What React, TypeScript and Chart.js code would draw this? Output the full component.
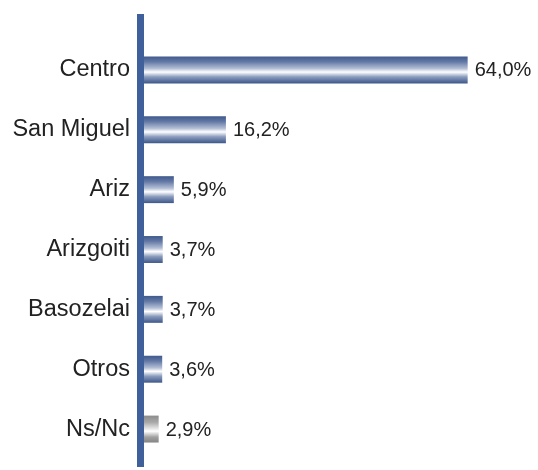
import React, { useEffect, useRef } from "react";
import { Chart, registerables } from "chart.js";

Chart.register(...registerables);

const categories = ["Centro", "San Miguel", "Ariz", "Arizgoiti", "Basozelai", "Otros", "Ns/Nc"];
const values = [64.0, 16.2, 5.9, 3.7, 3.7, 3.6, 2.9];
const barKinds = ["blue", "blue", "blue", "blue", "blue", "blue", "gray"];

const FONT = "'Liberation Sans', Arial, Helvetica, sans-serif";
const AXIS_COLOR = "#40609c";

const gradientStops: Record<string, [number, string][]> = {
  blue: [
    [0, "#3f5a8e"],
    [0.2, "#6479a5"],
    [0.45, "#b4bfd6"],
    [0.58, "#ffffff"],
    [0.76, "#8a9bbc"],
    [1, "#3d578b"],
  ],
  gray: [
    [0, "#8c8c8c"],
    [0.25, "#a9a9a9"],
    [0.58, "#ffffff"],
    [0.8, "#a0a0a0"],
    [1, "#858585"],
  ],
};

const formatValue = (v: number) => v.toFixed(1).replace(".", ",") + "%";

export default function App() {
  const canvasRef = useRef<HTMLCanvasElement | null>(null);

  useEffect(() => {
    const canvas = canvasRef.current;
    if (!canvas) return;

    const axisLinePlugin = {
      id: "axisLine",
      afterDatasetsDraw(chart: any) {
        const { ctx, chartArea } = chart;
        ctx.save();
        ctx.fillStyle = AXIS_COLOR;
        ctx.fillRect(chartArea.left - 7, chartArea.top - 26, 7, chartArea.bottom - chartArea.top + 34);
        ctx.restore();
      },
    };

    const valueLabelPlugin = {
      id: "valueLabels",
      afterDatasetsDraw(chart: any) {
        const { ctx } = chart;
        const meta = chart.getDatasetMeta(0);
        ctx.save();
        ctx.fillStyle = "#222222";
        ctx.font = `20px ${FONT}`;
        ctx.textAlign = "left";
        ctx.textBaseline = "middle";
        meta.data.forEach((el: any, i: number) => {
          ctx.fillText(formatValue(values[i]), el.x + 7, el.y + 1);
        });
        ctx.restore();
      },
    };

    const chart = new Chart(canvas, {
      type: "bar",
      data: {
        labels: categories,
        datasets: [
          {
            data: values,
            backgroundColor: (c: any) => {
              const ch = c.chart;
              const kind = barKinds[c.dataIndex] || "blue";
              const stops = gradientStops[kind];
              const yScale = ch.scales && ch.scales.y;
              if (!ch.chartArea || !yScale || c.dataIndex === undefined) return stops[0][1];
              const center = yScale.getPixelForValue(c.dataIndex);
              const half = (yScale.height / categories.length) * 0.45 / 2;
              const g = ch.ctx.createLinearGradient(0, center - half, 0, center + half);
              stops.forEach(([o, col]) => g.addColorStop(o, col));
              return g;
            },
            borderWidth: 0,
            barPercentage: 0.45,
            categoryPercentage: 1,
          },
        ],
      },
      options: {
        indexAxis: "y",
        animation: false,
        responsive: false,
        maintainAspectRatio: false,
        devicePixelRatio: 1,
        layout: { padding: { left: 0, right: 40, top: 40, bottom: 11 } },
        plugins: {
          legend: { display: false },
          tooltip: { enabled: false },
        },
        scales: {
          x: {
            display: false,
            min: 0,
            max: 70,
          },
          y: {
            grid: { display: false, drawTicks: false },
            border: { display: false },
            ticks: {
              color: "#222222",
              padding: 14,
              font: { family: FONT, size: 23.5 },
            },
            afterFit: (scale: any) => {
              scale.width = 144;
              scale.paddingTop = 0;
              scale.paddingBottom = 0;
            },
          },
        },
      },
      plugins: [axisLinePlugin, valueLabelPlugin],
    } as any);

    return () => chart.destroy();
  }, []);

  return (
    <div style={{ position: "fixed", left: 0, top: 0, width: 538, height: 470, background: "#ffffff" }}>
      <canvas ref={canvasRef} width={538} height={470} style={{ display: "block", width: 538, height: 470 }} />
    </div>
  );
}
